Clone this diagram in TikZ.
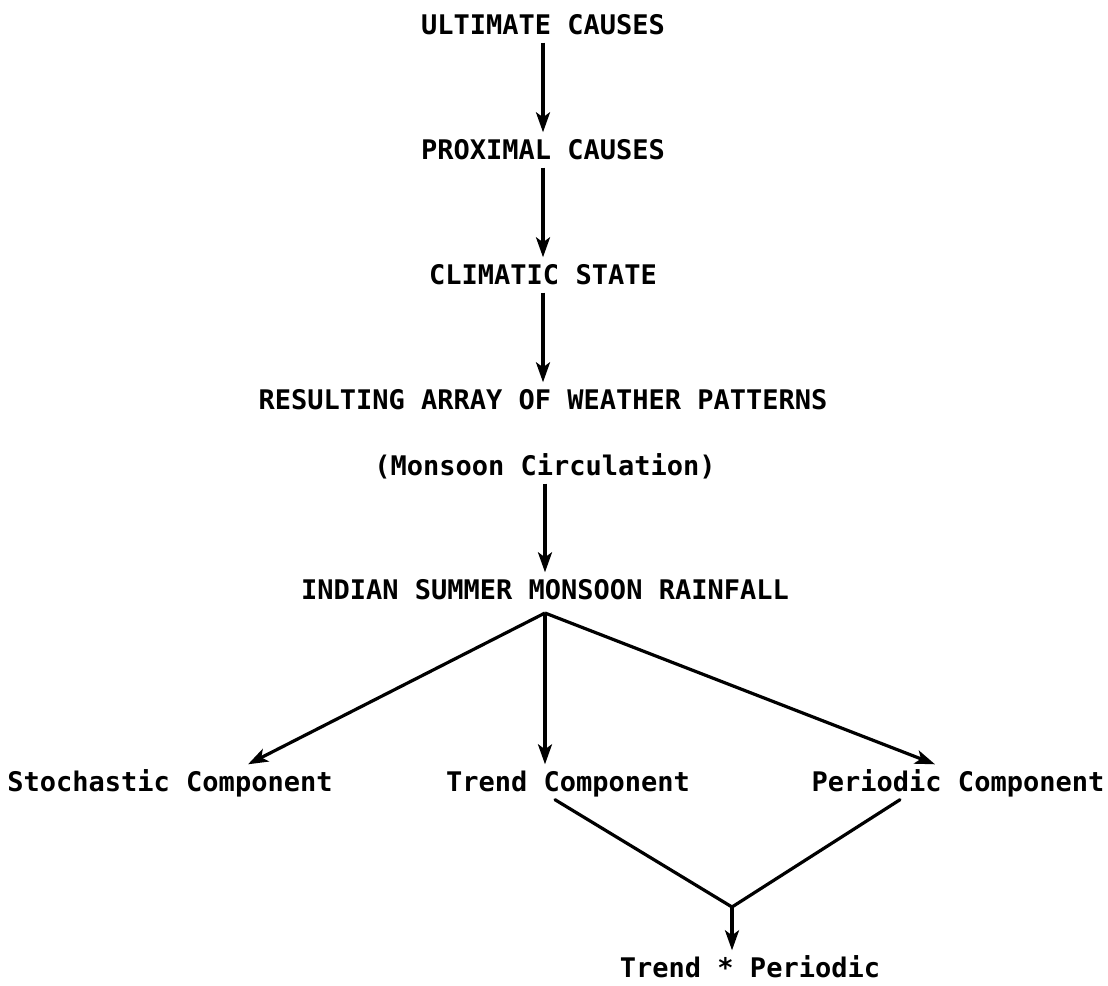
\documentclass[tikz,border=0pt]{standalone}
\usepackage{fontspec}
\newfontfamily\twfont{DejaVu Sans Mono}
\usetikzlibrary{arrows.meta}
\begin{document}
\begin{tikzpicture}[x=1pt,y=-1pt,
  lbl/.style={font=\twfont\bfseries\fontsize{27}{30}\selectfont, inner xsep=0pt, inner ysep=8pt, text height=19pt, text depth=0pt},
  arr/.style={line width=3.2pt, -{Stealth[length=20pt,width=14pt,inset=5pt]}},
  ln/.style={line width=3.2pt, line cap=round}]
\useasboundingbox[fill=white] (0,0) rectangle (1108,985);
\node[lbl] (u) at (543,25) {ULTIMATE CAUSES};
\node[lbl] (p) at (543,150) {PROXIMAL CAUSES};
\node[lbl] (c) at (543,275) {CLIMATIC STATE};
\node[lbl] (r) at (543,400) {RESULTING ARRAY OF WEATHER PATTERNS};
\node[lbl] (m) at (545,466) {(Monsoon Circulation)};
\node[lbl] (i) at (545,590) {INDIAN SUMMER MONSOON RAINFALL};
\node[lbl] (s) at (170,782) {Stochastic Component};
\node[lbl] (t) at (568,782) {Trend Component};
\node[lbl] (pc) at (958,782) {Periodic Component};
\node[lbl] (tp) at (750,968) {Trend * Periodic};
\coordinate (apex) at (545,613);
\coordinate (junc) at (732,907);
\draw[arr] (u.south) -- (p.north);
\draw[arr] (p.south) -- (c.north);
\draw[arr] (c.south) -- (r.north);
\draw[arr] (m.south) -- (i.north);
\draw[arr] (apex) -- ([xshift=78pt]s.north);
\draw[arr] (apex) -- ([xshift=-23pt]t.north);
\draw[arr] (apex) -- ([xshift=-23pt]pc.north);
\draw[ln] ([xshift=-13pt]t.south) -- (junc);
\draw[ln] ([xshift=-58pt]pc.south) -- (junc);
\draw[arr] (junc) -- ([xshift=-18pt]tp.north);
\end{tikzpicture}
\end{document}
